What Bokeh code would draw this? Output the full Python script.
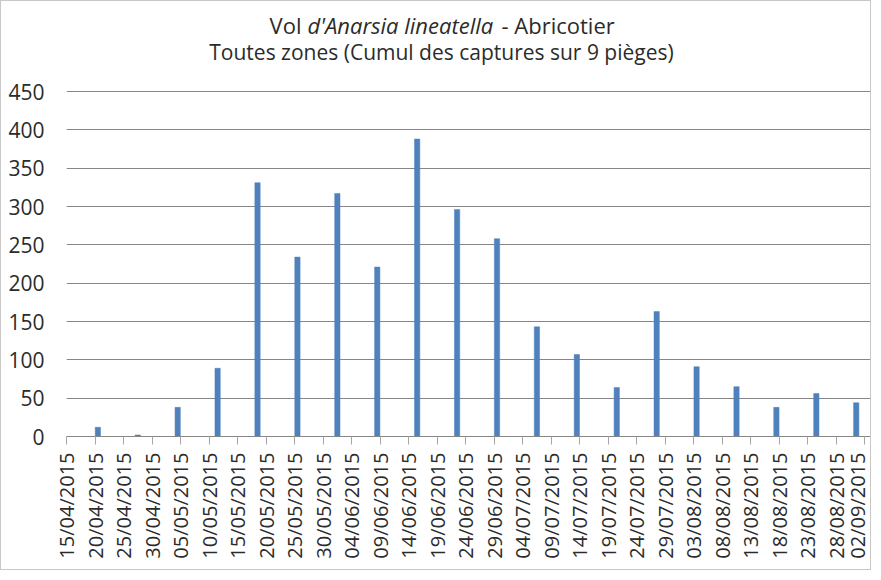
import numpy as np
import pandas as pd
from bokeh.plotting import figure
from bokeh.models import FixedTicker, DatetimeTickFormatter, Range1d, Label, ColumnDataSource
from bokeh.embed import file_html
from bokeh.resources import INLINE

# --- data -------------------------------------------------------------
dates = ["20/04/2015", "27/04/2015", "04/05/2015", "11/05/2015", "18/05/2015",
         "25/05/2015", "01/06/2015", "08/06/2015", "15/06/2015", "22/06/2015",
         "29/06/2015", "06/07/2015", "13/07/2015", "20/07/2015", "27/07/2015",
         "03/08/2015", "10/08/2015", "17/08/2015", "24/08/2015", "31/08/2015"]
captures = [12, 2, 38, 89, 331, 234, 317, 221, 388, 296,
            258, 143, 107, 64, 163, 91, 65, 38, 56, 44]
tick_labels = ["15/04/2015", "20/04/2015", "25/04/2015", "30/04/2015", "05/05/2015",
               "10/05/2015", "15/05/2015", "20/05/2015", "25/05/2015", "30/05/2015",
               "04/06/2015", "09/06/2015", "14/06/2015", "19/06/2015", "24/06/2015",
               "29/06/2015", "04/07/2015", "09/07/2015", "14/07/2015", "19/07/2015",
               "24/07/2015", "29/07/2015", "03/08/2015", "08/08/2015", "13/08/2015",
               "18/08/2015", "23/08/2015", "28/08/2015", "02/09/2015"]
y_ticks = [0, 50, 100, 150, 200, 250, 300, 350, 400, 450]
x_start, x_end = "15/04/2015", "03/09/2015"
title_1 = ["Vol", "d'Anarsia lineatella", "- Abricotier"]
title_2 = "Toutes zones (Cumul des captures sur 9 pièges)"

DAY = 86400000.0
def ms(s):
    return pd.to_datetime(s, format="%d/%m/%Y").value / 1e6

# --- layout (canvas pixels) ---------------------------------------------
W, H = 871, 570
LEFT, RIGHT, BOTTOM = 65, 2, 135
FRAME_W = W - LEFT - RIGHT
FRAME_H = H - BOTTOM
Y_MAX_PX = 345                      # pixel height of the 0..450 span
y_top = y_ticks[-1] * FRAME_H / Y_MAX_PX
x0, x1 = ms(x_start), ms(x_end)
OFF = 9                             # page -> canvas (8 margin + 1 border)

def px_x(page_x):
    return x0 + (page_x - OFF - LEFT) / FRAME_W * (x1 - x0)
def px_y(page_y):
    return (FRAME_H - (page_y - OFF)) / FRAME_H * y_top

src = ColumnDataSource(dict(x=[ms(d) + DAY / 2 for d in dates], top=captures))

FONT = "Open Sans"
TXT = "#2b2b2b"
GRID = "#868686"

p = figure(width=W, height=H, x_axis_type="datetime",
           output_backend="svg", toolbar_location=None,
           x_range=Range1d(x0, x1), y_range=Range1d(0, y_top),
           min_border_left=LEFT, min_border_top=0, min_border_right=RIGHT,
           min_border_bottom=BOTTOM)
p.styles = {"border": "1px solid #c8c8c8"}

p.vbar(x="x", top="top", width=0.93 * DAY, source=src,
       fill_color="#4f81bd", line_color="#4f81bd", line_width=0.5)

p.outline_line_color = None
p.xgrid.grid_line_color = None
p.ygrid.grid_line_color = GRID
p.ygrid.grid_line_width = 1

p.xaxis.ticker = FixedTicker(ticks=[ms(t) for t in tick_labels])
p.xaxis.formatter = DatetimeTickFormatter(days="%d/%m/%Y", months="%d/%m/%Y",
                                          hours="%d/%m/%Y", years="%d/%m/%Y")
p.xaxis.major_label_orientation = np.pi / 2
p.xaxis.axis_line_color = GRID
p.xaxis.major_tick_line_color = "#a6a6a6"
p.xaxis.major_tick_in = 0
p.xaxis.major_tick_out = 8
p.xaxis.minor_tick_line_color = None
p.xaxis.major_label_standoff = 8
p.xaxis.major_label_text_font = FONT
p.xaxis.major_label_text_font_size = "20px"
p.xaxis.major_label_text_color = TXT

p.yaxis.ticker = FixedTicker(ticks=y_ticks)
p.yaxis.axis_line_color = None
p.yaxis.major_tick_line_color = None
p.yaxis.minor_tick_line_color = None
p.yaxis.major_tick_in = 0
p.yaxis.major_tick_out = 0
p.yaxis.major_label_standoff = 22
p.yaxis.major_label_text_font = FONT
p.yaxis.major_label_text_font_size = "21px"
p.yaxis.major_label_text_color = TXT

common = dict(text_font=FONT, text_color=TXT, text_baseline="middle")
p.add_layout(Label(x=px_x(309), y=px_y(32.5), text=title_1[0],
                   text_align="right", text_font_size="22px", **common))
p.add_layout(Label(x=px_x(315), y=px_y(32.5), text=title_1[1],
                   text_align="left", text_font_style="italic",
                   text_font_size="22px", **common))
p.add_layout(Label(x=px_x(509), y=px_y(32.5), text=title_1[2],
                   text_align="left", text_font_size="22px", **common))
p.add_layout(Label(x=px_x(449), y=px_y(59), text=title_2,
                   text_align="center", text_font_size="21px", **common))

open("out.html", "w").write(file_html(p, INLINE))
